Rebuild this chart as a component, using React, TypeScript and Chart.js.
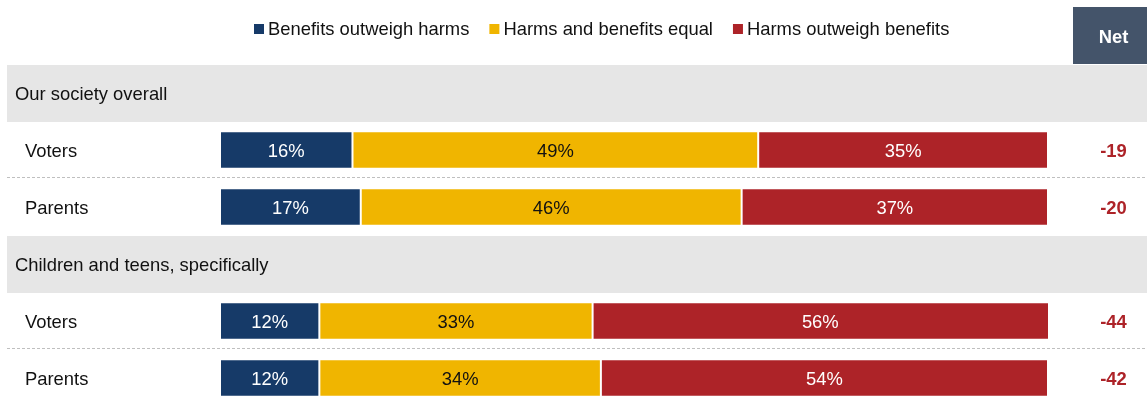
import { useEffect, useRef } from "react";
import { Chart, registerables } from "chart.js";

Chart.register(...registerables);

// ---- data ----
const rowLabels = [
  "Our society overall",
  "Voters",
  "Parents",
  "Children and teens, specifically",
  "Voters",
  "Parents",
];
const headerRows = [true, false, false, true, false, false];
const seriesNames = [
  "Benefits outweigh harms",
  "Harms and benefits equal",
  "Harms outweigh benefits",
];
const benefitsValues = [null, 16, 17, null, 12, 12];
const equalValues = [null, 49, 46, null, 33, 34];
const harmsValues = [null, 35, 37, null, 56, 54];
const netValues = [null, -19, -20, null, -44, -42];
const netTitle = "Net";

// ---- styles ----
const FONT = "'Liberation Sans', Arial, Helvetica, sans-serif";
const FS = 18.4;
const BLUE = "#163A68";
const YELLOW = "#F0B500";
const RED = "#AD2328";
const LABEL_COLORS = ["#FFFFFF", "#111111", "#FFFFFF"];
const HEADER_BG = "#E6E6E6";
const NET_BG = "#44546A";
const TEXT_DROP = 7.3; // baseline offset from row centre

const decorPlugin = {
  id: "decor",
  beforeDatasetsDraw(chart: any) {
    const ctx = chart.ctx;
    const yScale = chart.scales.y;
    const labels = chart.data.labels as string[];
    const step =
      labels.length > 1
        ? yScale.getPixelForValue(1) - yScale.getPixelForValue(0)
        : 57;
    ctx.save();
    // header bands
    labels.forEach((_l, i) => {
      if (headerRows[i]) {
        const yc = yScale.getPixelForValue(i);
        ctx.fillStyle = HEADER_BG;
        ctx.fillRect(7, Math.round(yc - step / 2), chart.width - 7, Math.round(step));
      }
    });
    // dashed separators
    ctx.strokeStyle = "#BFBFBF";
    ctx.lineWidth = 1;
    ctx.setLineDash([3, 2]);
    for (let i = 0; i < labels.length - 1; i++) {
      if (!headerRows[i] && !headerRows[i + 1]) {
        const yb =
          Math.round((yScale.getPixelForValue(i) + yScale.getPixelForValue(i + 1)) / 2) - 1.5;
        ctx.beginPath();
        ctx.moveTo(7, yb);
        ctx.lineTo(chart.width, yb);
        ctx.stroke();
      }
    }
    ctx.setLineDash([]);
    // row labels
    ctx.font = `${FS}px ${FONT}`;
    ctx.textBaseline = "alphabetic";
    ctx.textAlign = "left";
    ctx.fillStyle = "#111111";
    labels.forEach((l, i) => {
      const yc = yScale.getPixelForValue(i);
      ctx.fillText(l, headerRows[i] ? 15 : 25, yc + TEXT_DROP);
    });
    // legend
    let x = 254;
    chart.data.datasets.forEach((ds: any) => {
      ctx.fillStyle = ds.backgroundColor;
      ctx.fillRect(x, 24, 10, 10);
      x += 14;
      ctx.fillStyle = "#111111";
      ctx.fillText(ds.label, x, 34.5);
      x += ctx.measureText(ds.label).width + 20;
    });
    // net header
    ctx.fillStyle = NET_BG;
    ctx.fillRect(1073, 7, chart.width - 1073, 57);
    ctx.fillStyle = "#FFFFFF";
    ctx.font = `bold ${FS}px ${FONT}`;
    ctx.textAlign = "center";
    ctx.fillText(netTitle, 1113.5, 43.3);
    ctx.restore();
  },
  afterDatasetsDraw(chart: any) {
    const ctx = chart.ctx;
    const area = chart.chartArea;
    const yScale = chart.scales.y;
    ctx.save();
    ctx.font = `${FS}px ${FONT}`;
    ctx.textAlign = "center";
    ctx.textBaseline = "alphabetic";
    chart.data.datasets.forEach((ds: any, d: number) => {
      const meta = chart.getDatasetMeta(d);
      meta.data.forEach((el: any, i: number) => {
        const v = ds.data[i];
        if (v === null || v === undefined) return;
        const p = el.getProps(["x", "base", "y"], true);
        const left = Math.max(Math.min(p.x, p.base), area.left);
        const right = Math.min(Math.max(p.x, p.base), area.right);
        ctx.fillStyle = LABEL_COLORS[d];
        ctx.fillText(`${v}%`, (left + right) / 2, p.y + TEXT_DROP);
      });
    });
    // net values
    ctx.font = `bold ${FS}px ${FONT}`;
    ctx.fillStyle = RED;
    netValues.forEach((n, i) => {
      if (n === null) return;
      ctx.fillText(String(n), 1113.5, yScale.getPixelForValue(i) + 6.6);
    });
    ctx.restore();
  },
};

export default function App() {
  const ref = useRef<HTMLCanvasElement | null>(null);

  useEffect(() => {
    document.body.style.margin = "0";
    document.body.style.overflow = "hidden";
    const canvas = ref.current;
    if (!canvas) return;
    const colors = [BLUE, YELLOW, RED];
    const series = [benefitsValues, equalValues, harmsValues];
    const chart = new Chart(canvas, {
      type: "bar",
      data: {
        labels: rowLabels,
        datasets: series.map((s, k) => ({
          label: seriesNames[k],
          data: s,
          backgroundColor: colors[k],
          borderColor: "rgba(255,255,255,0.45)",
          borderWidth: 1,
          borderSkipped: false,
          barPercentage: 0.66,
          categoryPercentage: 1,
          clip: 0,
        })),
      },
      options: {
        indexAxis: "y",
        responsive: false,
        animation: false,
        events: [],
        layout: { padding: { left: 220, right: 99, top: 64.5, bottom: 3.5 } },
        scales: {
          x: { stacked: true, min: 0, max: 100, display: false },
          y: { stacked: true, display: false },
        },
        plugins: {
          legend: { display: false },
          tooltip: { enabled: false },
        },
      },
      plugins: [decorPlugin],
    } as any);
    return () => chart.destroy();
  }, []);

  return (
    <div style={{ width: 1147, height: 396, overflow: "hidden", position: "relative" }}>
      <canvas ref={ref} width={1147} height={410} style={{ display: "block" }} />
    </div>
  );
}
